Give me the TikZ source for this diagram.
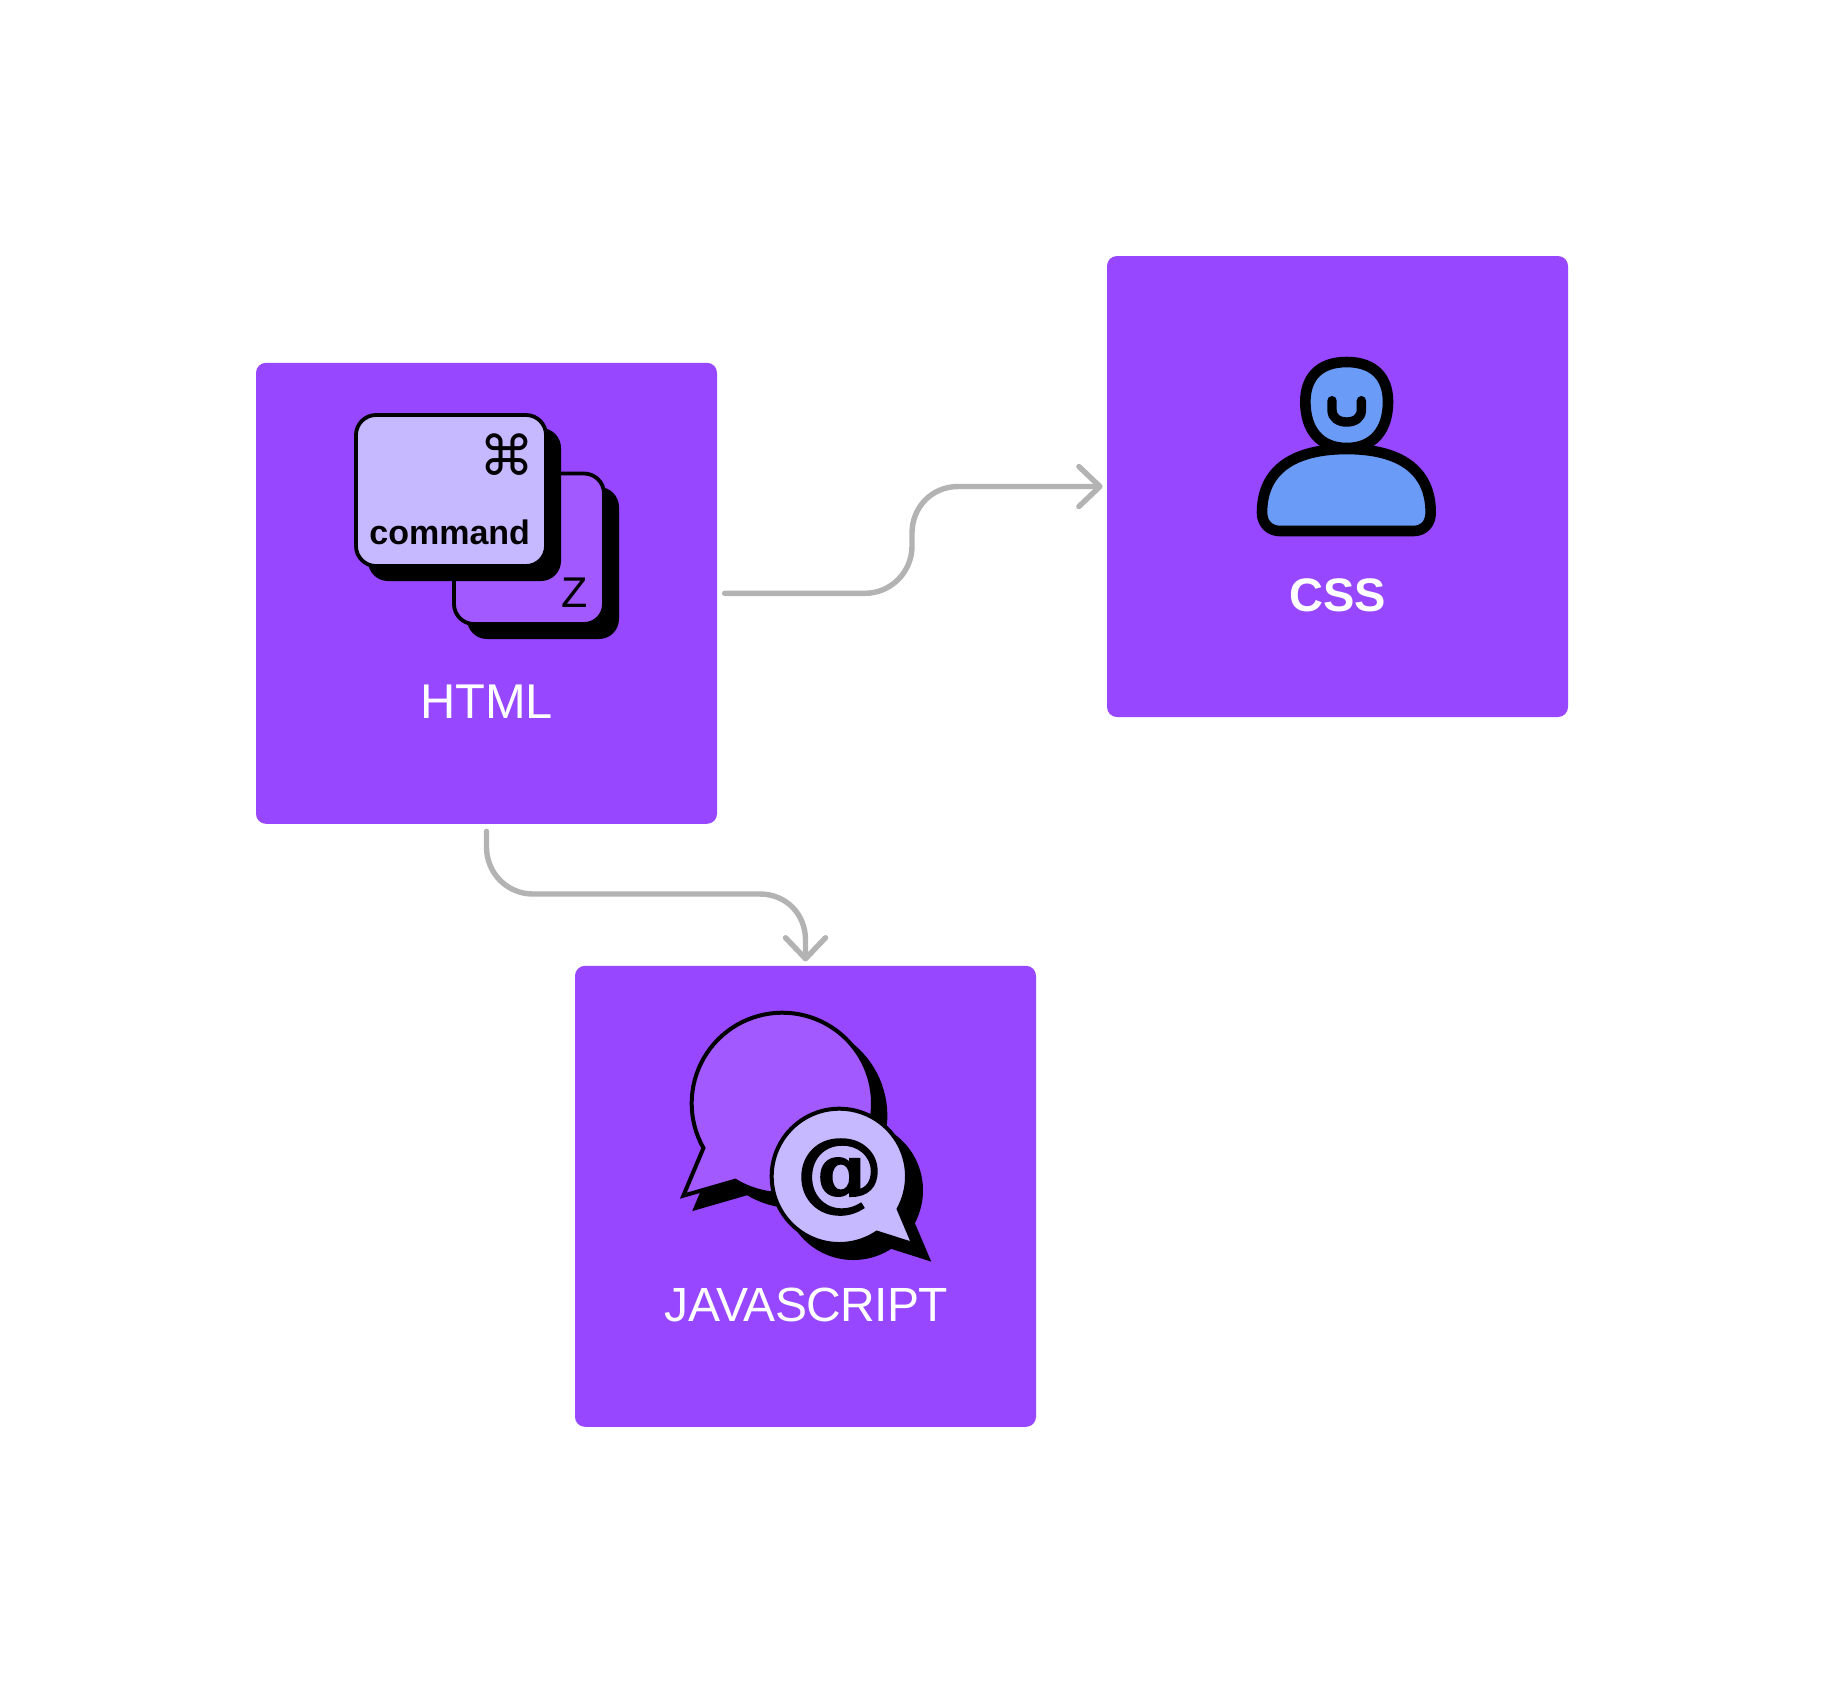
\documentclass[tikz,border=0pt]{standalone}
\usepackage{fontspec}
\setmainfont{Liberation Sans}
\newfontfamily\djv{DejaVu Sans}
\newfontfamily\djs{DejaVu Serif Bold}[FakeStretch=1.0,RawFeature={embolden=2.5}]
\usetikzlibrary{arrows.meta}
\definecolor{boxpurple}{HTML}{9747FF}
\definecolor{lilac}{HTML}{C7B9FF}
\definecolor{midpurple}{HTML}{A259FF}
\definecolor{skyblue}{HTML}{699BF7}
\definecolor{conngray}{HTML}{B3B3B3}
\newcommand{\fs}[1]{\fontsize{#1pt}{#1pt}\selectfont}
\tikzset{
  card/.style={rectangle,fill=boxpurple,minimum size=230.5pt,inner sep=0pt,rounded corners=5pt},
  conn/.style={draw=conngray,line width=2.7pt,line cap=round,shorten <=3.6pt,shorten >=2pt,
     -{Straight Barb[round,length=10.5pt,width=20pt]}},
  lab/.style={anchor=base,inner sep=0pt,text=white},
  keyshadow/.style={fill=black,rounded corners=10pt},
  keyface/.style={draw=black,line width=1.9pt,rounded corners=10pt},
  blk/.style={anchor=base,inner sep=0pt,text=black},
  bubble/.style={draw=black,line width=2pt,line join=miter,miter limit=10},
  person/.style={draw=black,fill=skyblue,line width=5.3pt}
}
\begin{document}
\begin{tikzpicture}[x=0.5pt,y=-0.5pt]
\useasboundingbox[fill=white] (0,0) rectangle (1824,1683);
\node[card] (html) at (486.5,593.3) {};
\node[card] (css) at (1337.5,486.5) {};
\node[card] (js) at (805.5,1196.3) {};
% connectors
\draw[conn] (html.east) -- (865,593.3) .. controls (891,593.3) and (912,572) .. (912,546) -- (912,533) .. controls (912,507) and (932,486.5) .. (958,486.5) -- (css.west);
\draw[conn] (html.south) -- (486.5,847) .. controls (486.5,873) and (507,894) .. (533,894) -- (760,894) .. controls (786,894) and (805.5,914) .. (805.5,940) -- (js.north);
% keyboard icon
\fill[keyshadow] (467,487) rectangle (619,639);
\draw[keyface,fill=midpurple] (454,473.5) rectangle (604,624);
\fill[keyshadow] (368,428) rectangle (561,581);
\draw[keyface,fill=lilac] (356,415) rectangle (546,566);
\node[blk,font=\djv\fs{27.5}] (cmdsym) at (506.7,475) {⌘};
\node[blk,font=\bfseries\fs{17}] (cmdtext) at (449.7,544.3) {command};
\node[blk,font=\fs{21.5}] (zkey) at (575,607) {Z};
\node[lab,font=\fs{24.4}] (htmllabel) at (486.5,718.5) {HTML};
% person icon
\begin{scope}[shift={(1200,330)},x=0.16667pt,y=-0.16667pt]
\draw[person] (440,96) .. controls (525,96) and (564,145) .. (564,215) .. controls (564,300) and (520,354) .. (440,354) .. controls (360,354) and (316,300) .. (316,215) .. controls (316,145) and (355,96) .. (440,96) -- cycle;
\draw[person] (240,603) -- (640,603) .. controls (672,603) and (692,580) .. (692,548) .. controls (692,420) and (600,357) .. (440,357) .. controls (280,357) and (186,420) .. (186,548) .. controls (186,580) and (208,603) .. (240,603) -- cycle;
\draw[black,line width=4.7pt,line cap=round] (396,212) -- (396,240) .. controls (396,264) and (416,276) .. (440,276) .. controls (464,276) and (484,264) .. (484,240) -- (484,212);
\end{scope}
\node[lab,font=\bfseries\fs{23.5}] (csslabel) at (1337.5,611) {CSS};
% speech bubbles
\begin{scope}[shift={(660,990)},x=0.16667pt,y=-0.16667pt]
\def\bigbub{plot[domain=150.5:481.4,samples=90] ({367+272*cos(\x)},{340+272*sin(\x)}) -- (70,617) -- cycle}
\def\smallbub{plot[domain=56.3:388.8,samples=90] ({538+203*cos(\x)},{559+203*sin(\x)}) -- (761,763) -- cycle}
\begin{scope}[shift={(37,37)}]
\draw[bubble,fill=black] \bigbub;
\end{scope}
\draw[bubble,fill=midpurple] \bigbub;
\begin{scope}[shift={(42,42)}]
\draw[bubble,fill=black] \smallbub;
\end{scope}
\draw[bubble,fill=lilac] \smallbub;
\node[inner sep=0pt,font=\djs\fs{43},text=black] (atsign) at (539,561) {@};
\end{scope}
\node[lab,font={\addfontfeatures{LetterSpace=-1.25}\fs{24}}] (jslabel) at (806.5,1321) {JAVASCRIPT};
\end{tikzpicture}
\end{document}
